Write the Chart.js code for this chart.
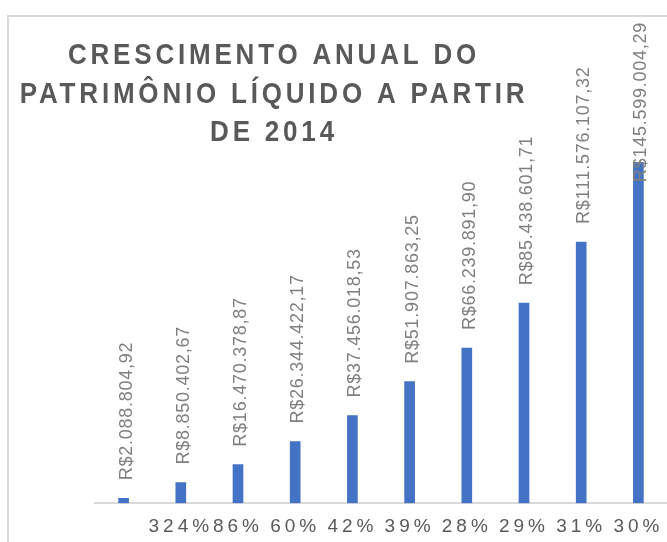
<!DOCTYPE html>
<html>
<head>
<meta charset="utf-8">
<script src="https://cdn.jsdelivr.net/npm/chart.js@4.4.1/dist/chart.umd.min.js"></script>
<style>
body { margin: 0; background: #fff; overflow: hidden; }
canvas { display: block; }
</style>
</head>
<body>
<canvas id="chart" width="667" height="542"></canvas>
<script>
// growth vs previous year, shown under each bar
var growth = ['', '324%', '86%', '60%', '42%', '39%', '28%', '29%', '31%', '30%'];
// net worth per year, from 2014
var patrimonio = [2088804.92, 8850402.67, 16470378.87, 26344422.17, 37456018.53,
    51907863.25, 66239891.90, 85438601.71, 111576107.32, 145599004.29];
var titleLines = ['CRESCIMENTO ANUAL DO', 'PATRIMÔNIO LÍQUIDO A PARTIR', 'DE 2014'];

function formatReal(v)
{
    var parts = v.toFixed(2).split('.');
    var inteiro = parts[0].replace(/\B(?=(\d{3})+(?!\d))/g, '.');
    return 'R$' + inteiro + ',' + parts[1];
}

var framePlugin = {
    id: 'frame',
    beforeDraw: function(chart) {
        var ctx = chart.ctx;
        ctx.save();
        ctx.fillStyle = '#fff';
        ctx.fillRect(0, 0, chart.width, chart.height);
        ctx.strokeStyle = '#d9d9d9';
        ctx.lineWidth = 2;
        ctx.strokeRect(8, 16, chart.width + 20, chart.height + 20);
        ctx.restore();
        // wide spacing for the axis labels
        ctx.letterSpacing = '4px';
    }
};

var titlePlugin = {
    id: 'bigTitle',
    afterDraw: function(chart) {
        var ctx = chart.ctx;
        ctx.save();
        ctx.font = 'bold 26px "Liberation Sans"';
        ctx.fillStyle = '#595959';
        ctx.textAlign = 'center';
        ctx.textBaseline = 'middle';
        ctx.letterSpacing = '3.8px';
        for (var i = 0; i < titleLines.length; i++) {
            ctx.save();
            ctx.translate(274, 56 + i * 38.5);
            ctx.scale(1, 1.15);
            ctx.fillText(titleLines[i], 0, 0);
            ctx.restore();
        }
        ctx.restore();
    }
};

var labelPlugin = {
    id: 'valueLabels',
    afterDatasetsDraw: function(chart) {
        var ctx = chart.ctx;
        var meta = chart.getDatasetMeta(0);
        ctx.save();
        ctx.font = '18px "Liberation Sans"';
        ctx.fillStyle = '#7f7f7f';
        ctx.letterSpacing = '0.75px';
        ctx.textAlign = 'left';
        ctx.textBaseline = 'middle';
        for (var i = 0; i < meta.data.length; i++) {
            var bar = meta.data[i];
            var text = formatReal(patrimonio[i]);
            var w = ctx.measureText(text).width;
            var start = bar.y - 18;
            if (start - w < 22)
                start = 22 + w;
            ctx.save();
            ctx.translate(bar.x + 3, start);
            ctx.rotate(-Math.PI / 2);
            ctx.fillText(text, 0, 0);
            ctx.restore();
        }
        ctx.restore();
    }
};

new Chart(document.getElementById('chart'), {
    type: 'bar',
    data: {
        labels: growth,
        datasets: [{
            data: patrimonio,
            backgroundColor: '#4472c4',
            barThickness: 10
        }]
    },
    options: {
        responsive: false,
        animation: false,
        devicePixelRatio: 1,
        layout: { padding: { left: 95, top: 152, right: 0, bottom: 0 } },
        plugins: {
            legend: { display: false },
            tooltip: { enabled: false },
            title: { display: false }
        },
        scales: {
            x: {
                grid: { display: false },
                border: { color: '#d9d9d9', width: 2 },
                ticks: {
                    color: '#595959',
                    font: { family: 'Liberation Sans', size: 19 },
                    autoSkip: false,
                    maxRotation: 0,
                    padding: 4
                }
            },
            y: { display: false, min: 0, max: 150000000 }
        }
    },
    plugins: [framePlugin, titlePlugin, labelPlugin]
});
</script>
</body>
</html>
